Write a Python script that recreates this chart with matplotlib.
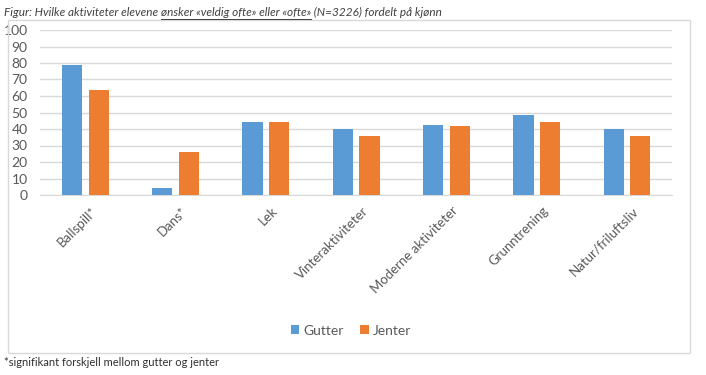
import matplotlib.pyplot as plt
import matplotlib.patches as patches
import numpy as np

plt.rcParams['font.family'] = ['Lato', 'DejaVu Sans']

categories = ['Ballspill*', 'Dans*', 'Lek', 'Vinteraktiviteter', 'Moderne aktiviteter',
              'Grunntrening', 'Natur/friluftsliv']
gutter = [78.5, 4, 44, 40, 42.5, 48.5, 40]
jenter = [63.5, 26, 44, 36, 42, 44.5, 35.5]
yticks = list(range(0, 101, 10))

blue = '#5B9BD5'
orange = '#ED7D31'
gray = '#595959'

fig = plt.figure(figsize=(7.06, 3.75), dpi=100)
ax = fig.add_axes([0.057, 0.48, 0.895, 0.44])

x = np.arange(len(categories))
w = 0.225
ax.bar(x - w / 2 - 0.035, gutter, w, color=blue, label='Gutter', zorder=3)
ax.bar(x + w / 2 + 0.035, jenter, w, color=orange, label='Jenter', zorder=3)

ax.set_xlim(-0.5, len(categories) - 0.5)
ax.set_ylim(0, 100)
ax.set_yticks(yticks)
ax.grid(axis='y', color='#D9D9D9', linewidth=1, zorder=0)
for s in ['top', 'right', 'left']:
    ax.spines[s].set_visible(False)
ax.spines['bottom'].set_color('#D9D9D9')
ax.tick_params(axis='both', length=0, colors=gray, labelsize=10)
ax.tick_params(axis='y', pad=9)
ax.set_xticks(x + 0.06)
ax.set_xticklabels(categories, rotation=45, ha='right', rotation_mode='anchor',
                   fontsize=9.5, color=gray)
ax.tick_params(axis='x', pad=7)

# legend
fig.legend(loc='center', bbox_to_anchor=(0.497, 0.118), ncol=2, frameon=False,
           fontsize=10, handlelength=0.6, handleheight=0.6, handletextpad=0.3,
           columnspacing=1.2, labelcolor=gray)

# chart frame
fig.patches.append(patches.Rectangle((8 / 706, 1 - 353 / 375), 682 / 706, 333 / 375,
                                     transform=fig.transFigure, fill=False,
                                     edgecolor='#D9D9D9', linewidth=1))

# title with underlined middle part
parts = ['Figur: Hvilke aktiviteter elevene ', 'ønsker «veldig ofte» eller «ofte»',
         ' (N=3226) fordelt på kjønn']
fig.canvas.draw()
r = fig.canvas.get_renderer()
xpos = 4 / 706
ypos = 1 - 12 / 375
for i, p in enumerate(parts):
    t = fig.text(xpos, ypos, p, fontsize=8.5, style='italic', color='#404040',
                 va='center', ha='left')
    bb = t.get_window_extent(renderer=r)
    x0 = bb.x0 / fig.bbox.width
    x1 = bb.x1 / fig.bbox.width
    if i == 1:
        yl = (bb.y0 - 1) / fig.bbox.height
        fig.add_artist(plt.Line2D([x0, x1], [yl, yl], transform=fig.transFigure,
                                  color='#404040', linewidth=0.7))
    xpos = x1

fig.text(4 / 706, 1 - 362 / 375, '*signifikant forskjell mellom gutter og jenter',
         fontsize=8, color='#303030', va='center', ha='left')

fig.savefig('out.png', dpi=100)
